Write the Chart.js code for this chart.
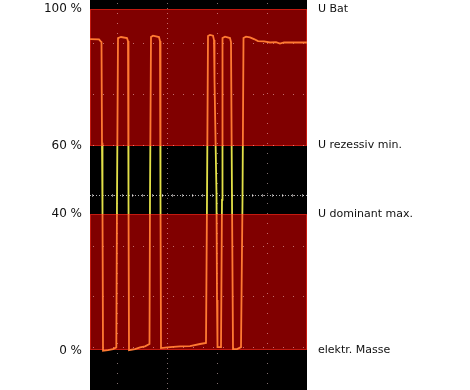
<!DOCTYPE html>
<html>
<head>
<meta charset="utf-8">
<script src="https://cdn.jsdelivr.net/npm/chart.js@4.4.0/dist/chart.umd.min.js"></script>
<style>
  html, body { margin: 0; padding: 0; background: #fff; }
</style>
</head>
<body>
<canvas id="scope" width="470" height="390"></canvas>
<script>
// Scope trace: time (µs, 10 per division) and signal level (% of U Bat)
const timeUs = [-5.4, -3.6, -3.3, -3.1, -3.0, -2.9, -2.8, -1.8, -0.8, -0.14, 0.0, 0.2, 0.8, 2.0, 2.2, 2.3, 2.4,
    3.6, 4.6, 5.6, 6.5, 6.6, 6.8, 7.2, 8.4, 8.6, 8.7, 8.8, 10.6, 12.6, 14.6, 16.6, 17.8, 18.0, 18.2, 18.6,
    19.2, 19.4, 19.5, 19.9, 20.0, 20.1, 20.8, 21.0, 21.1, 21.6, 22.6, 22.8, 23.0, 23.2, 24.0, 24.8, 25.1,
    25.3, 25.8, 26.6, 27.4, 28.2, 29.4, 30.6, 31.8, 32.6, 33.4, 35.6, 38.0];
const signalPct = [91.2, 91.1, 90.6, 90.3, 60.8, 40.0, -0.1, 0.1, 0.4, 0.9, 44.1, 91.5, 91.8, 91.5, 90.6, 44.1, 0.1,
    0.4, 0.9, 1.2, 1.9, 44.1, 91.8, 92.2, 91.8, 90.6, 44.0, 0.7, 1.0, 1.2, 1.3, 1.9, 2.2, 44.1, 92.1, 92.4,
    92.2, 90.9, 79.2, 45.5, 14.8, 1.0, 1.0, 44.1, 91.5, 91.9, 91.5, 90.3, 44.1, 0.4, 0.4, 1.0, 44.1,
    91.5, 91.9, 91.7, 91.2, 90.6, 90.5, 90.2, 90.3, 89.9, 90.2, 90.2, 90.2];

// Level marks on both sides
const levelPct = [0, 40, 60, 100];
const levelNames = ['elektr. Masse', 'U dominant max.', 'U rezessiv min.', 'U Bat'];
const levelBands = [[0, 40], [60, 100]];

// Scope graticule
const gridTime = [0, 10, 20, 30];
const gridPct = [1.0, 15.9, 30.7, 45.5, 60.3, 75.2, 90.1];
const centerTime = 10;
const centerPct = 45.5;

Chart.defaults.font.family = 'DejaVu Sans';
Chart.defaults.color = '#111';

// Draw the black screen, the red level bands and the graticule
const scopeBackground = {
    id: 'scopeBackground',
    beforeDatasetsDraw(chart) {
        const { ctx, chartArea: a, scales: { x, y } } = chart;
        ctx.save();
        ctx.fillStyle = '#000';
        ctx.fillRect(a.left, a.top, a.width, a.height);

        levelBands.forEach(([lo, hi]) => {
            const top = Math.round(y.getPixelForValue(hi));
            const bottom = Math.round(y.getPixelForValue(lo));
            ctx.fillStyle = '#800000';
            ctx.fillRect(a.left, top, a.width, bottom - top);
            ctx.strokeStyle = '#c41a10';
            ctx.lineWidth = 1;
            ctx.strokeRect(a.left + 0.5, top + 0.5, a.width - 1, bottom - top - 1);
        });

        ctx.strokeStyle = 'rgba(255, 220, 220, 0.5)';
        ctx.lineWidth = 1;
        gridTime.forEach(t => {
            const px = Math.round(x.getPixelForValue(t)) + 0.5;
            ctx.setLineDash(t === centerTime ? [1, 4] : [1, 9]);
            ctx.beginPath();
            ctx.moveTo(px, a.top + 3);
            ctx.lineTo(px, a.bottom);
            ctx.stroke();
        });
        gridPct.forEach(p => {
            const py = Math.round(y.getPixelForValue(p)) + 0.5;
            ctx.setLineDash([1, 9]);
            ctx.beginPath();
            ctx.moveTo(a.left + 3, py);
            ctx.lineTo(a.right, py);
            ctx.stroke();
        });

        // center line with minor ticks
        const cy = Math.round(y.getPixelForValue(centerPct)) + 0.5;
        ctx.strokeStyle = 'rgba(255, 255, 255, 0.7)';
        ctx.setLineDash([1, 2]);
        ctx.beginPath();
        ctx.moveTo(a.left, cy);
        ctx.lineTo(a.right, cy);
        ctx.stroke();
        ctx.setLineDash([]);
        ctx.strokeStyle = 'rgba(255, 255, 255, 0.5)';
        for (let t = -5; t <= 38; t += 2) {
            const px = Math.round(x.getPixelForValue(t)) + 0.5;
            ctx.beginPath();
            ctx.moveTo(px, cy - 1.5);
            ctx.lineTo(px, cy + 1.5);
            ctx.stroke();
        }
        ctx.restore();
    }
};

// Orange trace, yellow where it crosses the black band
function traceColor(context) {
    const { chart } = context;
    const { ctx, chartArea, scales } = chart;
    if (!chartArea) return '#ff7a32';
    const h = chartArea.bottom - chartArea.top;
    const s60 = (scales.y.getPixelForValue(60) - chartArea.top) / h;
    const s40 = (scales.y.getPixelForValue(40) - chartArea.top) / h;
    const g = ctx.createLinearGradient(0, chartArea.top, 0, chartArea.bottom);
    g.addColorStop(0, '#ff7a32');
    g.addColorStop(s60, '#ff7a32');
    g.addColorStop(s60, '#e2e048');
    g.addColorStop(s40, '#e2e048');
    g.addColorStop(s40, '#ff7a32');
    g.addColorStop(1, '#ff7a32');
    return g;
}

const yMin = -11.57;
const yMax = 102.64;

new Chart(document.getElementById('scope').getContext('2d'), {
    type: 'line',
    data: {
        datasets: [{
            data: timeUs.map((t, i) => ({ x: t, y: signalPct[i] })),
            borderColor: traceColor,
            borderWidth: 1.8,
            pointRadius: 0,
            tension: 0,
            yAxisID: 'y'
        }]
    },
    options: {
        responsive: false,
        animation: false,
        layout: { padding: 0 },
        plugins: { legend: { display: false }, tooltip: { enabled: false } },
        scales: {
            x: {
                type: 'linear',
                min: -5.4,
                max: 38.0,
                display: false
            },
            y: {
                position: 'left',
                min: yMin,
                max: yMax,
                grid: { display: false, drawTicks: false },
                border: { display: false },
                ticks: {
                    padding: 8,
                    font: { size: 12 },
                    callback: v => v + ' %'
                },
                afterBuildTicks: scale => { scale.ticks = levelPct.map(v => ({ value: v })); },
                afterFit: scale => { scale.width = 90; scale.paddingTop = 0; scale.paddingBottom = 0; }
            },
            yRight: {
                position: 'right',
                min: yMin,
                max: yMax,
                grid: { display: false, drawTicks: false },
                border: { display: false },
                ticks: {
                    padding: 11,
                    font: { size: 11 },
                    callback: v => levelNames[levelPct.indexOf(v)]
                },
                afterBuildTicks: scale => { scale.ticks = levelPct.map(v => ({ value: v })); },
                afterFit: scale => { scale.width = 163; scale.paddingTop = 0; scale.paddingBottom = 0; }
            }
        }
    },
    plugins: [scopeBackground]
});
</script>
</body>
</html>
